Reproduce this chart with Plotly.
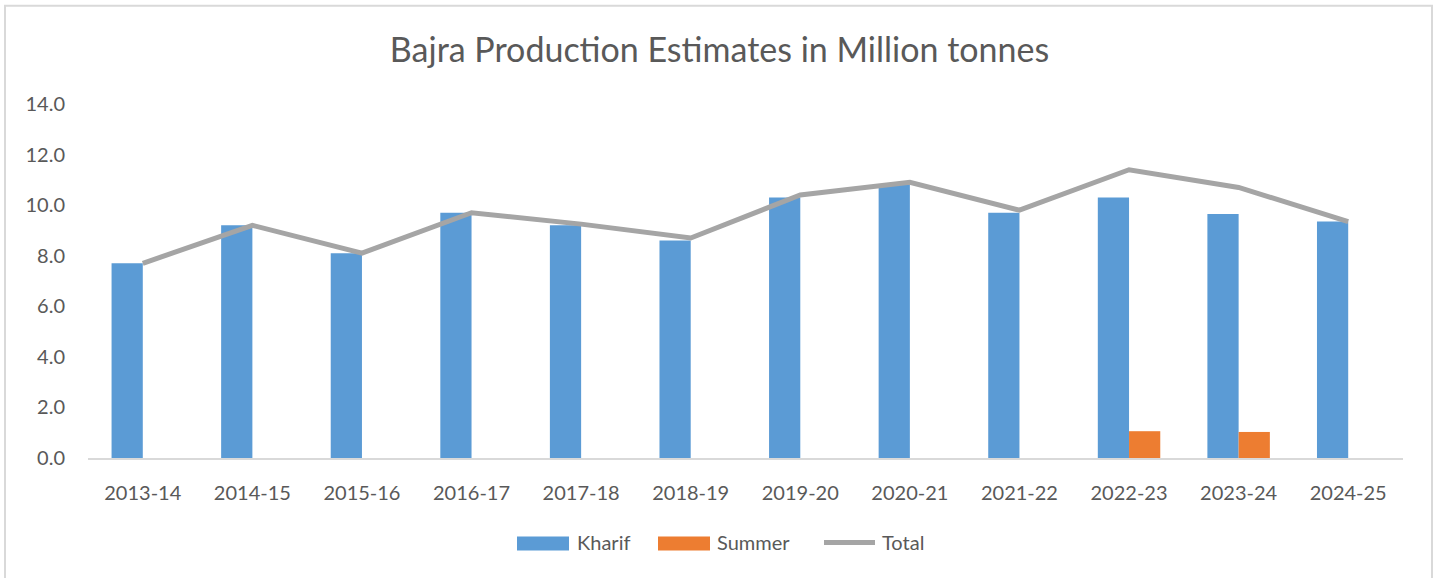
import plotly.graph_objects as go

categories = ["2013-14", "2014-15", "2015-16", "2016-17", "2017-18", "2018-19",
              "2019-20", "2020-21", "2021-22", "2022-23", "2023-24", "2024-25"]
kharif = [7.7, 9.2, 8.1, 9.7, 9.2, 8.6, 10.3, 10.8, 9.7, 10.3, 9.65, 9.35]
summer = [None, None, None, None, None, None, None, None, None, 1.06, 1.03, None]
total = [7.7, 9.2, 8.1, 9.7, 9.25, 8.7, 10.4, 10.9, 9.8, 11.4, 10.7, 9.35]
y_ticks = [0, 2, 4, 6, 8, 10, 12, 14]
series_names = ["Kharif", "Summer", "Total"]
series_colors = ["#5B9BD5", "#ED7D31", "#A5A5A5"]

FONT = "Lato"
TEXT = "#595959"

fig = go.Figure()
fig.add_trace(go.Bar(x=categories, y=kharif, name=series_names[0],
                     marker_color=series_colors[0], marker_line_width=0))
fig.add_trace(go.Bar(x=categories, y=summer, name=series_names[1],
                     marker_color=series_colors[1], marker_line_width=0))
fig.add_trace(go.Scatter(x=categories, y=total, name=series_names[2], mode="lines",
                         line=dict(color=series_colors[2], width=5)))

# plot area in pixels: x 88..1403, y 104.3..458.5
def px(x):
    return (x - 88) / 1315

def py(y):
    return (458.5 - y) / 354.2

shapes = [dict(type="rect", xref="paper", yref="paper",
               x0=px(5), x1=px(1432), y0=py(600), y1=py(6),
               line=dict(color="#D9D9D9", width=2), fillcolor="rgba(0,0,0,0)",
               layer="below")]
annotations = []
# custom legend (wide swatches like the original)
leg_y0, leg_y1 = 537, 551
swatch_x = [(517, 569), (658, 710), (822, 877)]
text_x = [575, 715, 880]
for i, name in enumerate(series_names):
    x0, x1 = swatch_x[i]
    if i < 2:
        shapes.append(dict(type="rect", xref="paper", yref="paper",
                           x0=px(x0), x1=px(x1), y0=py(leg_y1), y1=py(leg_y0),
                           fillcolor=series_colors[i], line=dict(width=0)))
    else:
        shapes.append(dict(type="line", xref="paper", yref="paper",
                           x0=px(x0 + 2), x1=px(x1 - 2), y0=py(543), y1=py(543),
                           line=dict(color=series_colors[i], width=5)))
    annotations.append(dict(text=name, xref="paper", yref="paper",
                            x=px(text_x[i]), y=py(543), xanchor="left", yanchor="middle",
                            showarrow=False, font=dict(family=FONT, size=20, color=TEXT)))

fig.update_layout(
    width=1439, height=578,
    margin=dict(l=88, r=36, t=104, b=120),
    paper_bgcolor="white", plot_bgcolor="white",
    barmode="group", bargap=0.43, bargroupgap=0,
    showlegend=False,
    title=dict(text="Bajra Production Estimates in Million tonnes",
               x=0.5, xanchor="center", y=1 - 50 / 578, yanchor="middle",
               font=dict(family=FONT, size=34, color=TEXT)),
    font=dict(family=FONT, size=20, color=TEXT),
    xaxis=dict(showline=True, linecolor="#D9D9D9", linewidth=1.5, showgrid=False,
               ticks="", ticklabelstandoff=16, tickfont=dict(size=20, color=TEXT)),
    yaxis=dict(range=[0, 14], tickvals=y_ticks, tickformat=".1f", showgrid=False,
               zeroline=False, showline=False, ticks="", ticklabelstandoff=22,
               tickfont=dict(size=20, color=TEXT)),
    shapes=shapes,
    annotations=annotations,
)

fig.write_html("out.html")
